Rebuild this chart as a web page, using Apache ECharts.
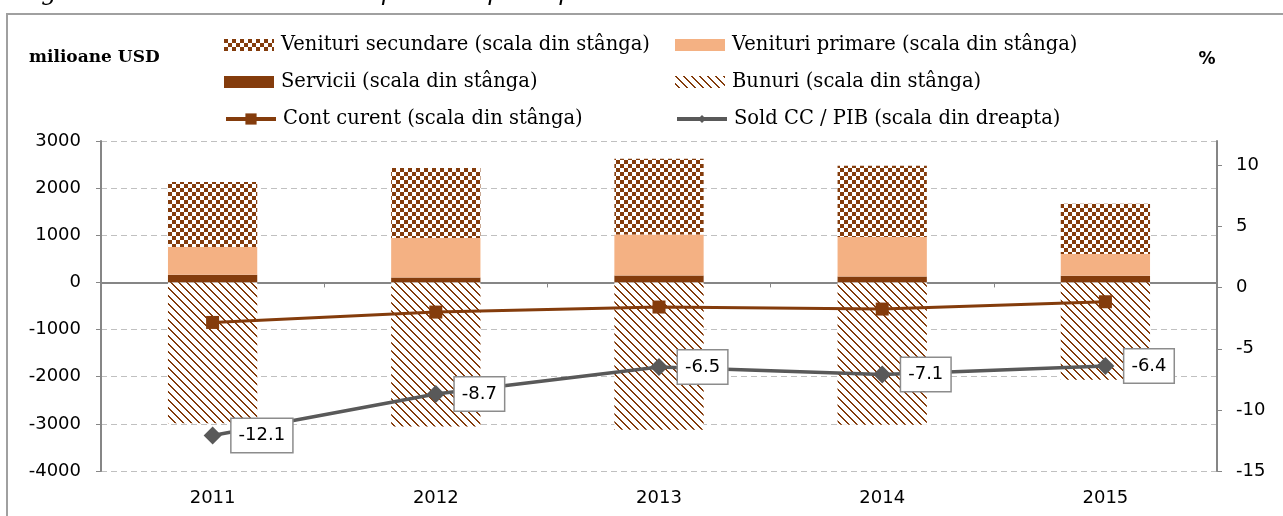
<!DOCTYPE html>
<html>
<head>
<meta charset="utf-8">
<script src="https://cdn.jsdelivr.net/npm/echarts@6/dist/echarts.min.js"></script>
<style>
  html, body { margin: 0; padding: 0; background: #fff; }
  #chart { width: 1283px; height: 516px; }
</style>
</head>
<body>
<div id="chart"></div>
<script>
// values
const years = ["2011", "2012", "2013", "2014", "2015"];
const servicii = [163, 106, 149, 127, 142];
const venituriPrimare = [588, 836, 869, 836, 460];
const venituriSecundare = [1379, 1485, 1606, 1513, 1068];
const bunuri = [-2985, -3055, -3125, -3020, -2065];
const contCurent = [-849, -629, -522, -565, -410];
const soldPib = [-12.1, -8.7, -6.5, -7.1, -6.4];
const rightTicks = [-15, -10, -5, 0, 5, 10];

const brown = "#843c0c";
const peach = "#f4b183";
const gray = "#595959";
const axisGray = "#868686";

// checkerboard fill, 4px squares
function checker() {
  let c = document.createElement("canvas");
  c.width = 8;
  c.height = 8;
  let ctx = c.getContext("2d");
  ctx.fillStyle = "#fff";
  ctx.fillRect(0, 0, 8, 8);
  ctx.fillStyle = brown;
  ctx.fillRect(0, 0, 4, 4);
  ctx.fillRect(4, 4, 4, 4);
  return c;
}

// downward diagonal stripes
function stripes() {
  let c = document.createElement("canvas");
  c.width = 8;
  c.height = 8;
  let ctx = c.getContext("2d");
  ctx.fillStyle = "#fff";
  ctx.fillRect(0, 0, 8, 8);
  ctx.fillStyle = brown;
  for (let y = 0; y < 8; y++) {
    for (let x = 0; x < 8; x++) {
      if ((((x - y) % 8) + 8) % 8 < 2) ctx.fillRect(x, y, 1, 1);
    }
  }
  return c;
}

const checkerFill = { image: checker(), repeat: "repeat" };
const stripeFill = { image: stripes(), repeat: "repeat" };

const legendText = {
  fontFamily: "DejaVu Serif",
  fontSize: 19.5,
  color: "#000",
  lineHeight: 22,
  padding: [0, 0, 0, 2]
};

function legendAt(name, left, top, isLine, h) {
  return {
    data: [{ name: name, icon: isLine ? undefined : "rect" }],
    left: left,
    top: top,
    padding: 0,
    itemWidth: 50,
    itemHeight: h,
    selectedMode: false,
    lineStyle: { width: 4 },
    textStyle: legendText
  };
}

const option = {
  animation: false,
  backgroundColor: "#fff",
  graphic: [
    {
      type: "rect",
      shape: { x: 7, y: 14, width: 1300, height: 600 },
      style: { fill: "none", stroke: "#a0a0a0", lineWidth: 2 }
    },
    {
      type: "text",
      style: {
        x: 0,
        y: -18,
        text: "Diagrama 3. Cont curent – componente principale",
        font: "italic 24px DejaVu Serif",
        fill: "#000",
        textVerticalAlign: "top"
      }
    },
    {
      type: "text",
      style: {
        x: 29,
        y: 58,
        text: "milioane USD",
        font: "bold 17px DejaVu Serif",
        fill: "#000",
        textVerticalAlign: "middle"
      }
    },
    {
      type: "text",
      style: {
        x: 1207,
        y: 60,
        text: "%",
        font: "bold 17px DejaVu Sans",
        fill: "#000",
        textAlign: "center",
        textVerticalAlign: "middle"
      }
    }
  ],
  legend: [
    legendAt("Venituri secundare (scala din stânga)", 224, 34, false, 12),
    legendAt("Servicii (scala din stânga)", 224, 71, false, 12),
    legendAt("Cont curent (scala din stânga)", 224, 108, true, 14),
    legendAt("Venituri primare (scala din stânga)", 675, 34, false, 12),
    legendAt("Bunuri (scala din stânga)", 675, 71, false, 12),
    legendAt("Sold CC / PIB (scala din dreapta)", 675, 108, true, 10)
  ],
  grid: { left: 101, right: 66, top: 141, bottom: 45 },
  xAxis: [
    {
      type: "category",
      data: years,
      position: "bottom",
      axisLine: { show: false, onZero: false },
      axisTick: { show: false },
      axisLabel: {
        fontFamily: "DejaVu Sans",
        fontSize: 18,
        color: "#000",
        margin: 18
      }
    },
    {
      type: "category",
      data: years,
      position: "top",
      axisLine: {
        onZero: true,
        onZeroAxisIndex: 0,
        lineStyle: { color: axisGray, width: 2 }
      },
      axisTick: { show: true, inside: true, length: 5, lineStyle: { color: axisGray } },
      axisLabel: { show: false },
      splitLine: { show: false }
    }
  ],
  yAxis: [
    {
      type: "value",
      min: -4000,
      max: 3000,
      interval: 1000,
      axisLine: { show: true, lineStyle: { color: axisGray, width: 2 } },
      axisTick: { show: true, length: 5, lineStyle: { color: axisGray } },
      axisLabel: {
        fontFamily: "DejaVu Sans",
        fontSize: 18,
        color: "#000",
        margin: 20,
        formatter: v => String(v)
      },
      splitLine: { lineStyle: { color: "#c0c0c0", type: [6, 4], width: 1 } }
    },
    {
      type: "value",
      position: "right",
      min: -15,
      max: 12,
      interval: 5,
      axisLine: { show: true, lineStyle: { color: axisGray, width: 2 } },
      axisTick: { show: true, length: 5, customValues: rightTicks, lineStyle: { color: axisGray } },
      axisLabel: {
        fontFamily: "DejaVu Sans",
        fontSize: 18,
        color: "#000",
        margin: 19,
        customValues: rightTicks
      },
      splitLine: { show: false }
    }
  ],
  series: [
    {
      name: "Servicii (scala din stânga)",
      type: "bar",
      stack: "cc",
      barWidth: "40%",
      itemStyle: { color: brown },
      data: servicii
    },
    {
      name: "Venituri primare (scala din stânga)",
      type: "bar",
      stack: "cc",
      itemStyle: { color: peach },
      data: venituriPrimare
    },
    {
      name: "Venituri secundare (scala din stânga)",
      type: "bar",
      stack: "cc",
      itemStyle: { color: checkerFill },
      data: venituriSecundare
    },
    {
      name: "Bunuri (scala din stânga)",
      type: "bar",
      stack: "cc",
      itemStyle: { color: stripeFill },
      data: bunuri
    },
    {
      name: "Cont curent (scala din stânga)",
      type: "line",
      symbol: "rect",
      symbolSize: 13,
      lineStyle: { color: brown, width: 3 },
      itemStyle: { color: brown },
      data: contCurent
    },
    {
      name: "Sold CC / PIB (scala din dreapta)",
      type: "line",
      yAxisIndex: 1,
      symbol: "diamond",
      symbolSize: 18,
      lineStyle: { color: gray, width: 3.5 },
      itemStyle: { color: gray },
      label: {
        show: true,
        position: "right",
        distance: 10,
        fontFamily: "DejaVu Sans",
        fontSize: 18,
        color: "#000",
        backgroundColor: "#fff",
        borderColor: "#8c8c8c",
        borderWidth: 1.5,
        padding: [8, 7, 7, 7]
      },
      data: soldPib
    }
  ]
};

let myChart = echarts.init(document.getElementById("chart"));
myChart.setOption(option);
</script>
</body>
</html>
